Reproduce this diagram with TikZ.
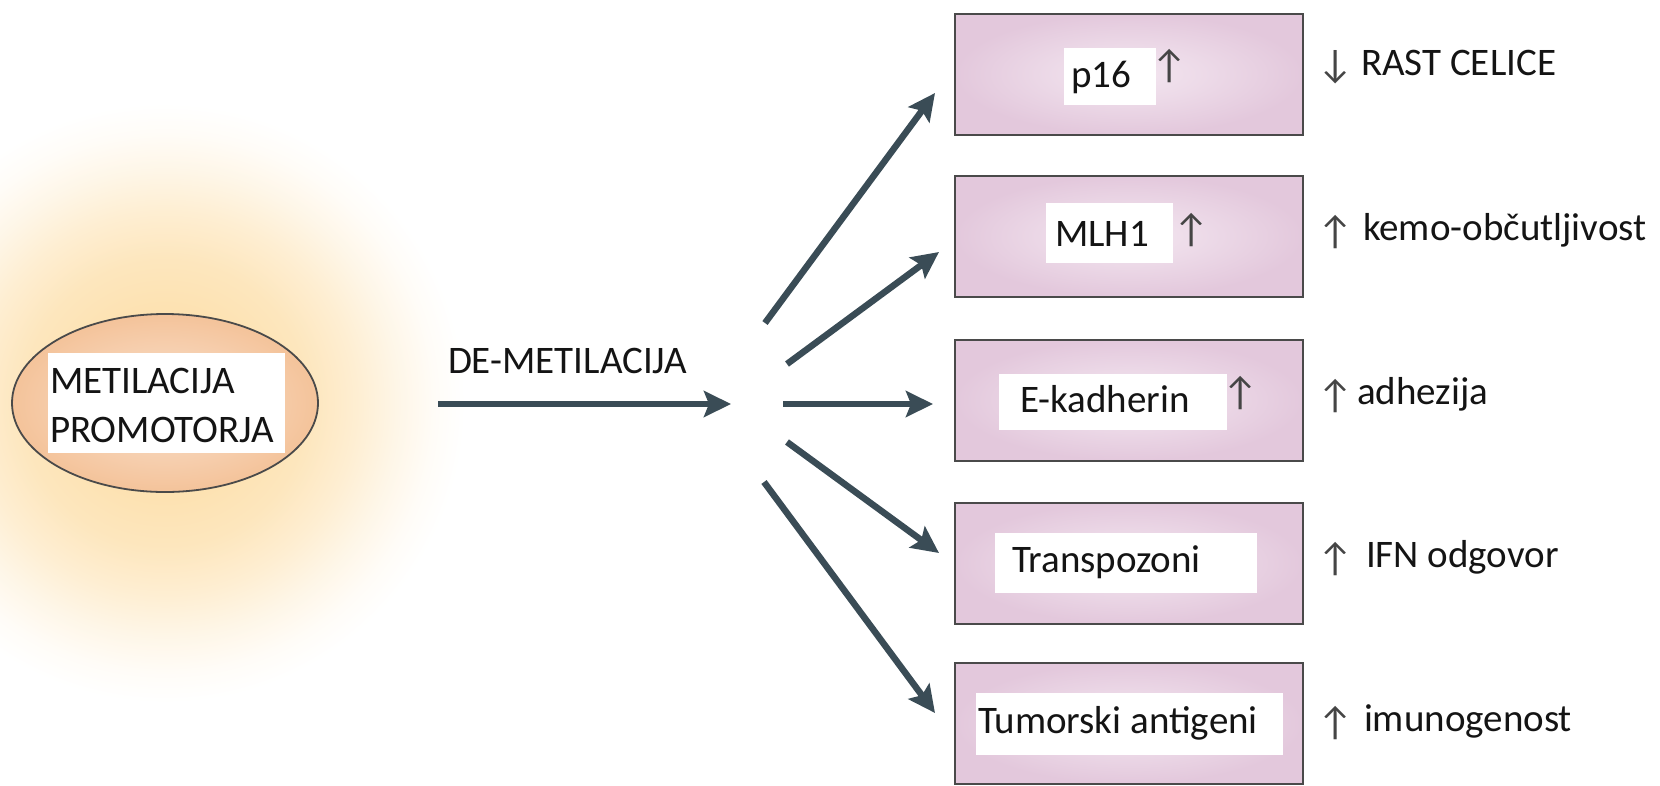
\documentclass[tikz,border=0pt]{standalone}
\usepackage{fontspec}
\setmainfont{Carlito}
\usetikzlibrary{arrows.meta,shapes.geometric}

\definecolor{arrowc}{HTML}{3A4C56}
\definecolor{glowc}{HTML}{FDE2B2}
\definecolor{ovalin}{HTML}{F9DEC9}
\definecolor{ovalout}{HTML}{F4C39A}
\definecolor{boxin}{HTML}{F3E6F0}
\definecolor{boxout}{HTML}{E3C8DC}
\definecolor{edgec}{HTML}{4A4A4A}
\definecolor{glyphc}{HTML}{454545}
\definecolor{textc}{HTML}{141414}

% soft halo around the promoter oval (25bp = edge of the shaded path)
\pgfdeclareradialshading{halo}{\pgfpoint{0bp}{0bp}}{%
  color(0bp)=(glowc); color(8bp)=(glowc); color(12bp)=(glowc!85!white);
  color(16bp)=(glowc!58!white); color(19.5bp)=(glowc!30!white);
  color(22.5bp)=(glowc!10!white); color(25bp)=(white); color(50bp)=(white)}
% oval and box fills: lighter in the middle
\pgfdeclareradialshading{ovalfill}{\pgfpoint{0bp}{0bp}}{%
  color(0bp)=(ovalin); color(10bp)=(ovalin!70!ovalout); color(25bp)=(ovalout);
  color(50bp)=(ovalout)}
\pgfdeclareradialshading{boxfill}{\pgfpoint{0bp}{0bp}}{%
  color(0bp)=(boxin); color(11bp)=(boxin!60!boxout); color(25bp)=(boxout);
  color(50bp)=(boxout)}

\begin{document}
\begin{tikzpicture}[x=1pt,y=-1pt,
  every node/.style={inner sep=0pt, outer sep=0pt},
  txt/.style={text=textc, font=\fontsize{39}{49}\selectfont},
  glyph/.style={text=glyphc, font=\fontsize{40}{48}\selectfont},
  patch/.style={fill=white, anchor=north west},
  genebox/.style={draw=edgec, line width=2pt, shading=boxfill,
    minimum width=348pt, minimum height=121pt},
  flow/.style={draw=arrowc, line width=6.5pt,
    -{Stealth[length=27pt,width=26pt,inset=5pt]}}
]
\useasboundingbox (0,0) rectangle (1660,785);
\clip (0,0) rectangle (1660,785);

% halo and oval
\shade[shading=halo] (165,403) circle (300);
\node[ellipse, draw=edgec, line width=1.8pt, shading=ovalfill,
  minimum width=306pt, minimum height=178pt] (oval) at (165,403) {};
\node[patch, minimum width=237pt, minimum height=100pt] (ovalpatch) at (48,353) {};
\node[txt, anchor=base west] (ovaltxt1) at (50,393) {METILACIJA};
\node[txt, anchor=base west] (ovaltxt2) at (50,442) {PROMOTORJA};

% main step
\coordinate (m0) at (438,404);
\coordinate (m1) at (731,404);
\draw[flow] (m0) -- (m1);
\node[txt, anchor=base west] (demet) at (448,373) {DE-METILACIJA};

% gene boxes
\node[genebox] (b1) at (1129,74) {};
\node[genebox] (b2) at (1129,236) {};
\node[genebox] (b3) at (1129,400) {};
\node[genebox] (b4) at (1129,563) {};
\node[genebox] (b5) at (1129,723) {};

% white label patches and names
\node[patch, minimum width=92pt, minimum height=57pt] (p1) at (1064,48) {};
\node[txt, anchor=base west] (g1) at (1071,87) {p16};
\node[glyph] (u1) at (1170,66) {↑};

\node[patch, minimum width=127pt, minimum height=60pt] (p2) at (1046,203) {};
\node[txt, anchor=base west] (g2) at (1055,246) {MLH1};
\node[glyph] (u2) at (1192,230) {↑};

\node[patch, minimum width=228pt, minimum height=56pt] (p3) at (999,374) {};
\node[txt, anchor=base west] (g3) at (1020,412) {E-kadherin};
\node[glyph] (u3) at (1241,393) {↑};

\node[patch, minimum width=262pt, minimum height=60pt] (p4) at (995,533) {};
\node[txt, anchor=base west] (g4) at (1012,572) {Transpozoni};

\node[patch, minimum width=307pt, minimum height=62pt] (p5) at (976,693) {};
\node[txt, anchor=base west] (g5) at (978,733) {Tumorski antigeni};

% fan of arrows toward the boxes
\coordinate (s1) at (765,323);  \coordinate (e1) at (935,93);
\coordinate (s2) at (787,364);  \coordinate (e2) at (939,252);
\coordinate (s3) at (783,404);  \coordinate (e3) at (933,404);
\coordinate (s4) at (787,442);  \coordinate (e4) at (939,553);
\coordinate (s5) at (764,482);  \coordinate (e5) at (935,713);
\draw[flow] (s1) -- (e1);
\draw[flow] (s2) -- (e2);
\draw[flow] (s3) -- (e3);
\draw[flow] (s4) -- (e4);
\draw[flow] (s5) -- (e5);

% effects
\node[glyph] (r1a) at (1336,67) {↓};
\node[txt, anchor=base west] (r1) at (1361,75) {RAST CELICE};
\node[glyph] (r2a) at (1336,232) {↑};
\node[txt, anchor=base west] (r2) at (1363,240) {kemo-občutljivost};
\node[glyph] (r3a) at (1336,396) {↑};
\node[txt, anchor=base west] (r3) at (1357,404) {adhezija};
\node[glyph] (r4a) at (1336,559) {↑};
\node[txt, anchor=base west] (r4) at (1366,567) {IFN odgovor};
\node[glyph] (r5a) at (1336,723) {↑};
\node[txt, anchor=base west] (r5) at (1364,731) {imunogenost};
\end{tikzpicture}
\end{document}
